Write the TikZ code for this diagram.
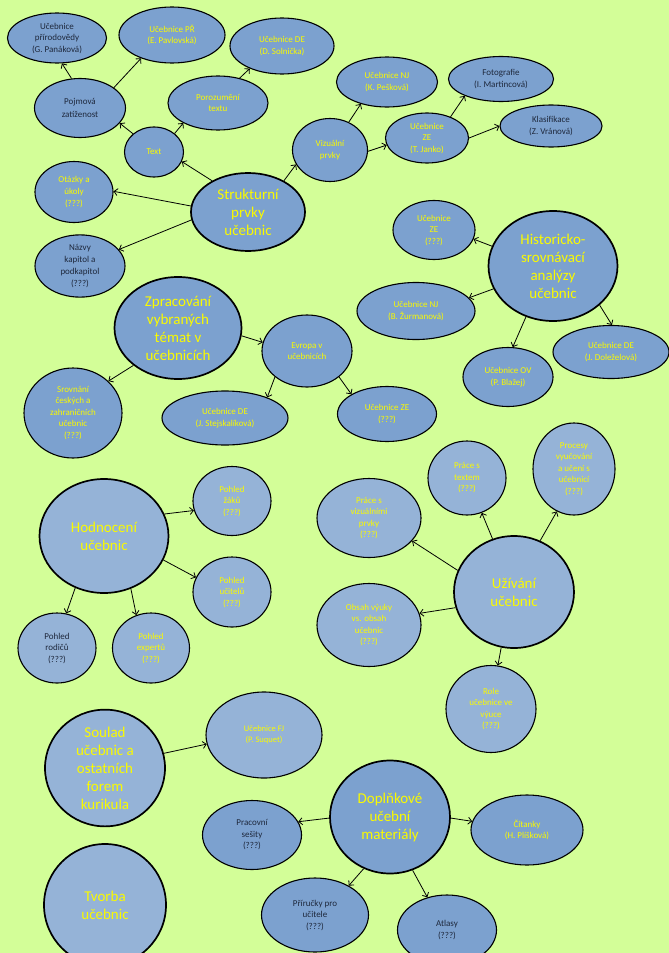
\documentclass[tikz,border=0pt]{standalone}
\usepackage{fontspec}
\setmainfont{Carlito}
\usetikzlibrary{shapes.geometric,arrows.meta}
\definecolor{bg}{RGB}{211,254,152}
\definecolor{fillA}{RGB}{124,161,207}
\definecolor{fillB}{RGB}{149,179,215}
\definecolor{ylw}{RGB}{250,250,0}
\definecolor{dkt}{RGB}{30,40,60}
\begin{document}
\begin{tikzpicture}[x=1pt,y=-1pt,
  bub/.style={ellipse,draw=black,line width=1.1pt,inner sep=0pt,align=center,font=\fontsize{9}{11.5}\selectfont},
  big/.style={bub,line width=1.7pt,font=\fontsize{15}{18}\selectfont},
  dA/.style={fill=fillA}, lB/.style={fill=fillB},
  yt/.style={text=ylw}, dt/.style={text=dkt},
  sz/.style 2 args={minimum width=#1pt,minimum height=#2pt},
  arr/.style={-{Straight Barb[length=3.5pt,width=7pt]},line width=0.8pt}]
\fill[bg] (0,0) rectangle (669,953);
\useasboundingbox (0,0) rectangle (669,953);

% Strukturni prvky cluster
\node[bub,dA,dt,sz={99}{50}] (prir) at (57,38) {Učebnice\\přírodovědy\\(G. Panáková)};
\node[bub,dA,yt,sz={106}{56}] (pr) at (172,35) {Učebnice PŘ\\(E. Pavlovská)};
\node[bub,dA,yt,sz={104}{56}] (de1) at (282,46) {Učebnice DE\\(D. Solnička)};
\node[bub,dA,dt,sz={91}{59},font=\fontsize{9}{13}\selectfont] (pojm) at (80,108) {Pojmová\\zatíženost};
\node[bub,dA,yt,sz={100}{54}] (poroz) at (218,103) {Porozumění\\textu};
\node[bub,dA,yt,sz={59}{50}] (text) at (154,152) {Text};
\node[big,dA,yt,sz={114}{78}] (strukt) at (248,212) {Strukturní\\prvky\\učebnic};
\node[bub,dA,yt,sz={78}{61},font=\fontsize{9}{12}\selectfont] (otazky) at (74,192) {Otázky a\\úkoly\\(???)};
\node[bub,dA,dt,sz={90}{61},font=\fontsize{9}{12.2}\selectfont] (nazvy) at (80,266) {Názvy\\kapitol a\\podkapitol\\(???)};
\node[bub,dA,yt,sz={75}{63}] (viz) at (330,150) {Vizuální\\prvky};
\node[bub,dA,yt,sz={101}{50}] (nj1) at (387,82) {Učebnice NJ\\(K. Pešková)};
\node[bub,dA,yt,sz={83}{50}] (zej) at (427,138) {Učebnice\\ZE\\(T. Janko)};
\node[bub,dA,dt,sz={105}{45}] (foto) at (501,79) {Fotografie\\(I. Martincová)};
\node[bub,dA,dt,sz={102}{42}] (klas) at (551,126) {Klasifikace\\(Z. Vránová)};

% Historicko-srovnavaci cluster
\node[big,dA,yt,sz={129}{110}] (hist) at (553,266) {Historicko-\\srovnávací\\analýzy\\učebnic};
\node[bub,dA,yt,sz={82}{59}] (ze2) at (434,230) {Učebnice\\ZE\\(???)};
\node[bub,dA,yt,sz={118}{57}] (nj2) at (416,311) {Učebnice NJ\\(B. Žurmanová)};
\node[bub,dA,yt,sz={90}{59}] (ov) at (508,377) {Učebnice OV\\(P. Blažej)};
\node[bub,dA,yt,sz={116}{53}] (de3) at (611,352) {Učebnice DE\\(J. Doleželová)};

% Zpracovani cluster
\node[big,dA,yt,sz={127}{102}] (zprac) at (178,328) {Zpracování\\vybraných\\témat v\\učebnicích};
\node[bub,dA,yt,sz={90}{72}] (evropa) at (307,351) {Evropa v\\učebnicích};
\node[bub,dA,yt,sz={98}{90}] (srov) at (73,413) {Srovnání\\českých a\\zahraničních\\učebnic\\(???)};
\node[bub,dA,yt,sz={126}{54}] (de2) at (225,418) {Učebnice DE\\(J. Stejskalíková)};
\node[bub,dA,yt,sz={99}{55}] (ze3) at (387,414) {Učebnice ZE\\(???)};

% Hodnoceni cluster
\node[big,lB,yt,sz={129}{114}] (hodn) at (104,536) {Hodnocení\\učebnic};
\node[bub,lB,yt,sz={78}{69}] (zaku) at (232,501) {Pohled\\žáků\\(???)};
\node[bub,lB,yt,sz={78}{70}] (ucitel) at (232,592) {Pohled\\učitelů\\(???)};
\node[bub,lB,dt,sz={78}{70}] (rodic) at (57,648) {Pohled\\rodičů\\(???)};
\node[bub,lB,yt,sz={77}{70}] (expert) at (151,648) {Pohled\\expertů\\(???)};

% Uzivani cluster
\node[big,lB,yt,sz={120}{112}] (uziv) at (514,592) {Užívání\\učebnic};
\node[bub,lB,yt,sz={78}{74}] (ptext) at (467,478) {Práce s\\textem\\(???)};
\node[bub,lB,yt,sz={82}{92}] (proc) at (574,469) {Procesy\\vyučování\\a učení s\\učebnicí\\(???)};
\node[bub,lB,yt,sz={104}{79}] (pviz) at (369,518) {Práce s\\vizuálními\\prvky\\(???)};
\node[bub,lB,yt,sz={104}{83}] (obsah) at (369,625) {Obsah výuky\\vs. obsah\\učebnic\\(???)};
\node[bub,lB,yt,sz={90}{87}] (role) at (491,709) {Role\\učebnice ve\\výuce\\(???)};

% Soulad, Tvorba
\node[big,lB,yt,sz={120}{113}] (soulad) at (105,768) {Soulad\\učebnic a\\ostatních\\forem\\kurikula};
\node[bub,lB,yt,sz={116}{86},font=\fontsize{8.5}{11}\selectfont] (fj) at (264,735) {Učebnice FJ\\(P. Suquet)};
\node[big,lB,yt,sz={122}{122}] (tvorba) at (105,905) {Tvorba\\učebnic};

% Doplnkove cluster
\node[big,dA,yt,sz={120}{113}] (dopl) at (390,817) {Doplňkové\\učební\\materiály};
\node[bub,dA,dt,sz={99}{69}] (prac) at (252,835) {Pracovní\\sešity\\(???)};
\node[bub,dA,yt,sz={112}{70}] (cit) at (527,830) {Čítanky\\(H. Plíšková)};
\node[bub,dA,dt,sz={107}{74}] (prir2) at (315,915) {Příručky pro\\učitele\\(???)};
\node[bub,dA,dt,sz={99}{70}] (atl) at (447,930) {Atlasy\\(???)};

% connectors
\draw[arr] (pojm.106) -- (prir.-79);
\draw[arr] (pojm.31) -- (pr.217);
\draw[arr] (text.139) -- (pojm.-21);
\draw[arr] (text.42) -- (poroz.210);
\draw[arr] (poroz.49) -- (de1.215);
\draw[arr] (strukt.139) -- (text.-19);
\draw[arr] (strukt.174) -- (otazky.1);
\draw[arr] (strukt.188) -- (nazvy.23);
\draw[arr] (strukt.41) -- (viz.203);
\draw[arr] (viz.56) -- (nj1.220);
\draw[arr] (viz.-2) -- (zej.190);
\draw[arr] (zej.42) -- (foto.205);
\draw[arr] (zej.0) -- (klas.180);

\draw[arr] (hist.162) -- (ze2.-13);
\draw[arr] (hist.201) -- (nj2.14);
\draw[arr] (hist.242) -- (ov.81);
\draw[arr] (hist.-40) -- (de3.88);

\draw[arr] (zprac.-7) -- (evropa.169);
\draw[arr] (zprac.220) -- (srov.42);
\draw[arr] (evropa.219) -- (de2.26);
\draw[arr] (evropa.-39) -- (ze3.151);

\draw[arr] (hodn.20) -- (zaku.194);
\draw[arr] (hodn.-22) -- (ucitel.158);
\draw[arr] (hodn.241) -- (rodic.75);
\draw[arr] (hodn.-63) -- (expert.114);

\draw[arr] (uziv.112) -- (ptext.-67);
\draw[arr] (uziv.63) -- (proc.248);
\draw[arr] (uziv.159) -- (pviz.-28);
\draw[arr] (uziv.195) -- (obsah.13);
\draw[arr] (uziv.257) -- (role.81);

\draw[arr] (soulad.14) -- (fj.189);

\draw[arr] (dopl.181) -- (prac.16);
\draw[arr] (dopl.-1) -- (cit.171);
\draw[arr] (dopl.243) -- (prir2.41);
\draw[arr] (dopl.-67) -- (atl.121);
\end{tikzpicture}
\end{document}
